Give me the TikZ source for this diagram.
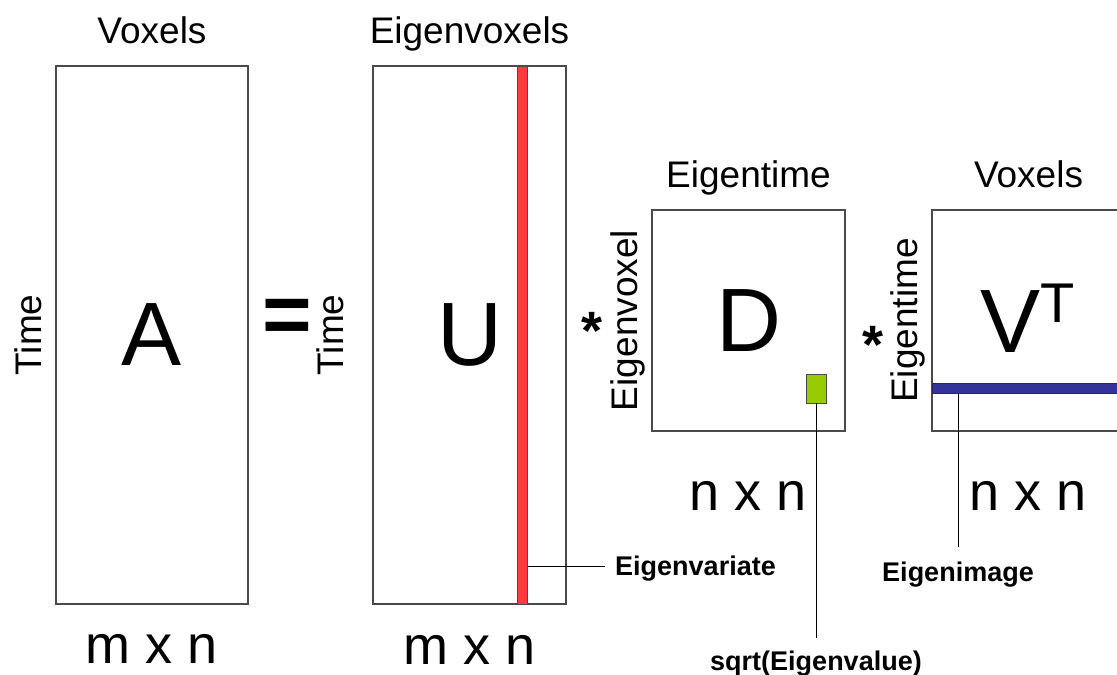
\documentclass[tikz,border=0pt]{standalone}
\usepackage{fontspec}
\setmainfont{Liberation Sans}
\usepackage{xcolor}
\usepackage{tikz}
\usetikzlibrary{positioning}
\definecolor{edgegray}{HTML}{4A4A4A}
\definecolor{barred}{HTML}{FF3B3B}
\definecolor{barblue}{HTML}{333399}
\definecolor{eigengreen}{HTML}{99CC00}
\newcommand{\transp}{\raisebox{30pt}{\fontsize{56}{56}\selectfont T}}

\begin{document}
\begin{tikzpicture}[x=1pt, y=-1pt,
    matbox/.style={rectangle, draw=edgegray, fill=white, line width=1.2pt, inner sep=0pt, font=\fontsize{90}{90}\selectfont},
    bar/.style={rectangle, draw=edgegray, line width=0.8pt, inner sep=0pt},
    title/.style={font=\fontsize{37}{40}\selectfont, inner sep=0pt, text depth=0pt},
    dims/.style={font=\fontsize{54}{56}\selectfont, inner sep=0pt},
    sidetext/.style={font=\fontsize{37}{40}\selectfont, inner sep=0pt, text depth=0pt, rotate=90},
    op/.style={font=\fontsize{54}{56}\selectfont\bfseries, inner sep=0pt},
    callout/.style={font=\fontsize{27}{30}\selectfont\bfseries, inner sep=0pt, text height=19pt, text depth=0pt},
    leader/.style={line width=1pt, color=black}
]
\useasboundingbox (0,0) rectangle (1117,675);
\clip (0,0) rectangle (1117,675);
\fill[white] (0,0) rectangle (1117,675);

% matrices
\node[matbox, minimum width=192pt, minimum height=538pt] (A) at (152,335) {A};
\node[matbox, minimum width=193pt, minimum height=538pt] (U) at (469.5,335) {U};
\node[matbox, minimum width=193pt, minimum height=221pt] (D) at (748.5,320.5) {D};
\node[matbox, minimum width=193pt, minimum height=221pt] (V) at (1028.5,320.5) {};
\node[font=\fontsize{90}{90}\selectfont, inner sep=0pt, anchor=base] (vt) at (1028,352) {V\transp};

\node[bar, fill=barred, minimum width=10pt, minimum height=538pt] (ucol) at (522.7,335) {};
\node[bar, fill=eigengreen, minimum width=20pt, minimum height=29pt] (ev) at (816,388.5) {};
\node[bar, fill=barblue, draw=barblue!70!black, minimum width=193pt, minimum height=10pt] (vrow) at (1028.5,388) {};

\node[title, above=22pt of A] {Voxels};
\node[title, above=22pt of U] {Eigenvoxels};
\node[title, above=22pt of D] {Eigentime};
\node[title, above=22pt of V] {Voxels};

\node[dims, below=30pt of A] {m x n};
\node[dims, below=31pt of U] {m x n};
\node[dims, below=50pt of D] {n x n};
\node[dims, below=50pt of V] {n x n};

\node[sidetext, left=14pt of A, anchor=south] {Time};
\node[sidetext, left=16pt of U, anchor=south, yshift=13pt] {Time};
\node[sidetext, left=14pt of D, anchor=south] {Eigenvoxel};
\node[sidetext, left=14pt of V, anchor=south] {Eigentime};

\node[op, font=\fontsize{85}{85}\selectfont\bfseries] (eq) at (287,321) {=};
\node[op] (times1) at (592,331) {*};
\node[op] (times2) at (873,345) {*};

% callouts
\node[callout, anchor=west, inner xsep=10pt] (evar) at (605,566) {Eigenvariate};
\node[callout, anchor=north, inner ysep=0pt] (eimg) at (958,562) {Eigenimage};
\node[callout, anchor=north] (esqrt) at (816,651) {sqrt(Eigenvalue)};

\draw[leader] (ucol.east |- evar.west) -- (evar.west);
\draw[leader] (vrow.south -| eimg.north) -- ([yshift=15pt]eimg.north);
\draw[leader] (ev.south) -- ([yshift=13pt]esqrt.north);

\end{tikzpicture}
\end{document}
